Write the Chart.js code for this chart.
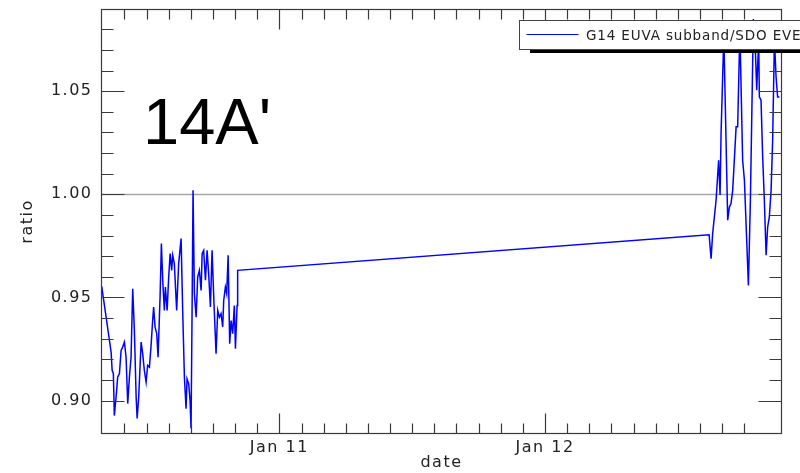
<!DOCTYPE html>
<html><head><meta charset="utf-8">
<script src="https://cdn.jsdelivr.net/npm/chart.js@4.4.0/dist/chart.umd.min.js"></script>
<style>html,body{margin:0;padding:0;background:#fff;}canvas{display:block;}</style>
</head><body>
<canvas id="c" width="800" height="473"></canvas>
<script>
// hours since 2011-01-10 00:00
const timeHours = [
  7.95, 8.80, 8.89, 9.00, 9.09, 9.30, 9.39, 9.55, 9.70, 9.84,
  10.00, 10.15, 10.30, 10.45, 10.60, 10.75, 10.90, 11.06, 11.15, 11.29,
  11.51, 11.65, 11.80, 11.96, 12.10, 12.26, 12.41, 12.55, 12.64, 12.77,
  12.92, 13.04, 13.22, 13.34, 13.46, 13.61, 13.70, 13.86, 14.00, 14.13,
  14.27, 14.36, 14.51, 14.72, 14.90, 15.12, 15.27, 15.42, 15.57, 15.66,
  15.81, 15.93, 16.02, 16.11, 16.20, 16.32, 16.48, 16.62, 16.77, 16.93,
  17.02, 17.16, 17.32, 17.47, 17.61, 17.77, 17.92, 18.07, 18.28, 18.43,
  18.58, 18.73, 18.88, 18.97, 19.12, 19.24, 19.37, 19.51, 19.64, 19.78,
  19.93, 20.03, 20.18, 20.23,
  62.82, 63.00, 63.14, 63.45, 63.68, 63.81, 63.90, 64.15, 64.50, 64.65,
  64.80, 64.95, 65.26, 65.40, 65.60, 65.85, 66.01, 66.37, 66.55, 66.82,
  67.00, 67.12, 67.30, 67.36, 67.51, 67.66, 67.81, 67.97, 68.11, 68.26,
  68.42, 68.56, 68.72, 68.87, 69.01, 69.17
];
const ratioValues = [
  0.9553, 0.9234, 0.9146, 0.9131, 0.8927, 0.9049, 0.9113, 0.9131, 0.9243, 0.9259,
  0.9283, 0.9210, 0.8985, 0.9113, 0.9210, 0.9542, 0.9340, 0.9016, 0.8913, 0.9016,
  0.9283, 0.9227, 0.9146, 0.9089, 0.9170, 0.9162, 0.9267, 0.9388, 0.9453, 0.9356,
  0.9324, 0.9210, 0.9501, 0.9761, 0.9583, 0.9437, 0.9550, 0.9437, 0.9599, 0.9712,
  0.9631, 0.9704, 0.9664, 0.9437, 0.9664, 0.9785, 0.9421, 0.9113, 0.8960, 0.9105,
  0.9081, 0.9000, 0.8864, 0.9421, 1.0019, 0.9518, 0.9404, 0.9599, 0.9631, 0.9534,
  0.9712, 0.9728, 0.9583, 0.9728, 0.9615, 0.9453, 0.9728, 0.9501, 0.9227, 0.9437,
  0.9404, 0.9421, 0.9356, 0.9485, 0.9550, 0.9518, 0.9704, 0.9275, 0.9388, 0.9324,
  0.9461, 0.9251, 0.9461, 0.9631,
  0.9804, 0.9688, 0.9809, 0.9971, 1.0165, 0.9997, 1.0295, 1.0772, 0.9874, 0.9938,
  0.9955, 1.0019, 1.0327, 1.0327, 1.0796, 1.0165, 1.0068, 0.9558, 0.9971, 1.0850,
  1.0699, 1.0505, 1.0748, 1.0472, 1.0456, 1.0181, 0.9971, 0.9704, 0.9841, 0.9890,
  1.0019, 1.0262, 1.0748, 1.0569, 1.0472, 1.0472
];
const xLabelHours = [24, 48];
const xLabelText = ['Jan 11', 'Jan 12'];
const yLabelValues = [0.90, 0.95, 1.00, 1.05];
const referenceLevel = 1.00;
const seriesName = 'G14 EUVA subband/SDO EVE';
const panelLabel = "14A'";

const points = timeHours.map((h, i) => ({ x: h, y: ratioValues[i] }));

const frame = {
  id: 'frame',
  beforeDraw(chart) { chart.ctx.letterSpacing = '1.5px'; },
  beforeDatasetsDraw(chart) {
    const { ctx, chartArea: a, scales: { y } } = chart;
    const yp = Math.round(y.getPixelForValue(referenceLevel)) + 0.5;
    ctx.save();
    ctx.strokeStyle = '#a6a6a6'; ctx.lineWidth = 1.5;
    ctx.beginPath(); ctx.moveTo(a.left, yp); ctx.lineTo(a.right, yp); ctx.stroke();
    ctx.restore();
  },
  afterDatasetsDraw(chart) {
    const { ctx, chartArea: a, scales: { x, y } } = chart;
    ctx.save();
    ctx.strokeStyle = '#3a3a3a'; ctx.lineWidth = 1.2;
    ctx.strokeRect(a.left, a.top, a.right - a.left, a.bottom - a.top);
    ctx.beginPath();
    x.ticks.forEach(t => {
      const v = t.value;
      if (Math.abs(v / 2 - Math.round(v / 2)) > 1e-6) return;
      const px = Math.round(x.getPixelForValue(v)) + 0.5;
      const len = (Math.abs(v / 24 - Math.round(v / 24)) < 1e-6) ? 20 : 10;
      ctx.moveTo(px, a.bottom); ctx.lineTo(px, a.bottom - len);
      ctx.moveTo(px, a.top); ctx.lineTo(px, a.top + len);
    });
    y.ticks.forEach(t => {
      const v = t.value;
      if (Math.abs(v * 100 - Math.round(v * 100)) > 1e-6) return;
      const py = Math.round(y.getPixelForValue(v)) + 0.5;
      const len = (Math.abs(v * 20 - Math.round(v * 20)) < 1e-6) ? 23 : 12;
      ctx.moveTo(a.left, py); ctx.lineTo(a.left + len, py);
      ctx.moveTo(a.right, py); ctx.lineTo(a.right - len, py);
    });
    ctx.stroke();
    ctx.restore();
  },
  afterDraw(chart) {
    const ctx = chart.ctx;
    ctx.save();
    ctx.letterSpacing = '0.85px';
    // legend box with shadow
    ctx.fillStyle = '#000';
    ctx.fillRect(530, 49, 280, 4);
    ctx.fillStyle = '#fff';
    ctx.fillRect(519.5, 20.5, 290, 29);
    ctx.strokeStyle = '#444'; ctx.lineWidth = 1;
    ctx.strokeRect(519.5, 20.5, 290, 29);
    ctx.strokeStyle = chart.data.datasets[0].borderColor; ctx.lineWidth = 1.2;
    ctx.beginPath(); ctx.moveTo(526.5, 34.5); ctx.lineTo(578.5, 34.5); ctx.stroke();
    ctx.fillStyle = '#222';
    ctx.font = '13.5px "DejaVu Sans"';
    ctx.textBaseline = 'alphabetic'; ctx.textAlign = 'left';
    ctx.fillText(chart.data.datasets[0].label, 586, 40);
    // panel label
    ctx.letterSpacing = '0px';
    ctx.fillStyle = '#000';
    ctx.font = '65px "Liberation Sans"';
    ctx.fillText(panelLabel, 143, 144);
    ctx.restore();
  }
};

const tickFont = { family: 'DejaVu Sans', size: 16 };

new Chart(document.getElementById('c'), {
  type: 'line',
  data: { datasets: [{ label: seriesName, data: points, borderColor: '#0000ff', borderWidth: 1.5,
                       pointRadius: 0, tension: 0, fill: false }] },
  options: {
    responsive: false, animation: false, devicePixelRatio: 1,
    layout: { padding: { top: 9.5, right: 18.5, left: 0, bottom: 0 } },
    plugins: { legend: { display: false }, tooltip: { enabled: false } },
    scales: {
      x: {
        type: 'linear', min: 7.93, max: 69.36,
        afterFit(s) { s.height = 39.5; s.paddingLeft = 0; s.paddingRight = 0; },
        grid: { display: false, drawTicks: false }, border: { display: false },
        ticks: {
          stepSize: 2, autoSkip: false, maxRotation: 0, minRotation: 0, padding: 5,
          color: '#222', font: tickFont,
          callback(v) {
            const i = xLabelHours.findIndex(h => Math.abs(h - v) < 1e-6);
            return i >= 0 ? xLabelText[i] : '';
          }
        },
        title: { display: true, text: 'date', color: '#222', font: tickFont, padding: { top: 0, bottom: 0.5 } }
      },
      y: {
        min: 0.884, max: 1.0896,
        afterFit(s) { s.width = 101.5; s.paddingTop = 0; s.paddingBottom = 0; },
        grid: { display: false, drawTicks: false }, border: { display: false },
        ticks: {
          stepSize: 0.01, autoSkip: false, padding: 9, color: '#222', font: tickFont,
          callback(v) {
            const hit = yLabelValues.find(t => Math.abs(t - v) < 1e-6);
            return hit !== undefined ? hit.toFixed(2) : '';
          }
        },
        title: { display: true, text: 'ratio', color: '#222', font: tickFont, padding: { top: 18, bottom: 0 } }
      }
    }
  },
  plugins: [frame]
});
</script>
</body></html>
